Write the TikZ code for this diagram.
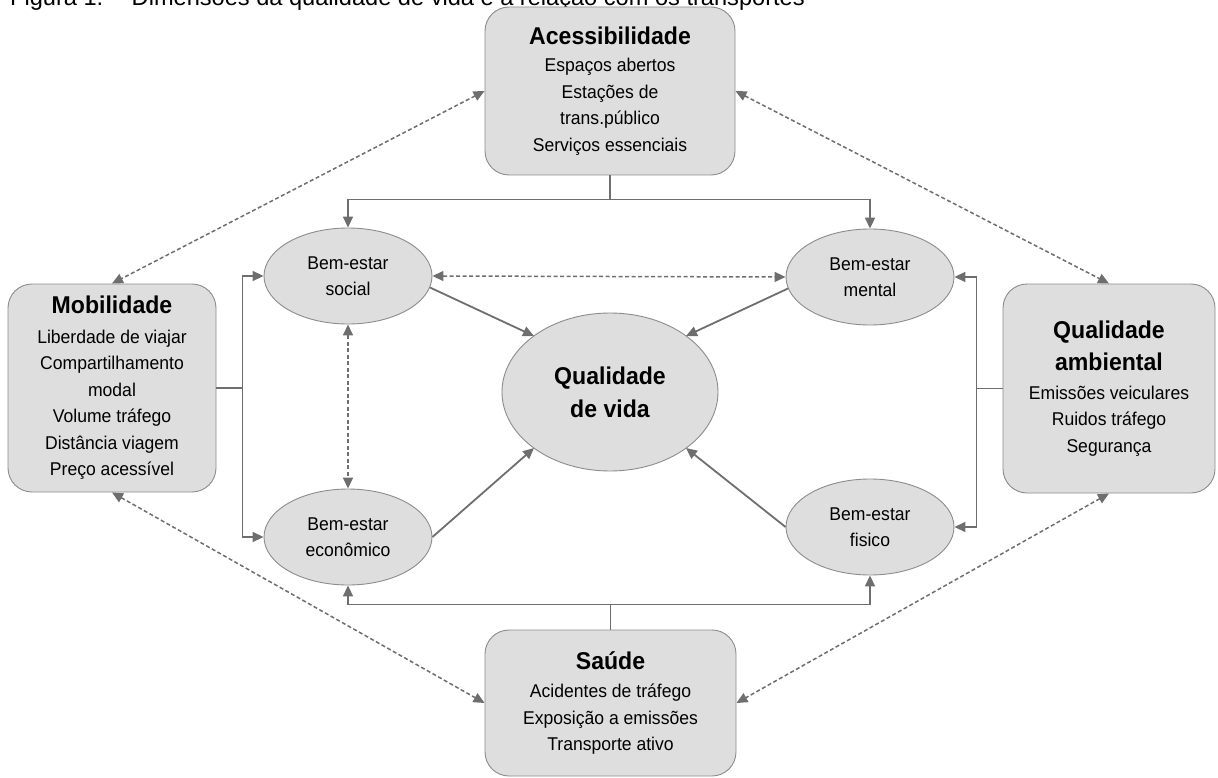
\documentclass[tikz,border=0pt]{standalone}
\usepackage{fontspec}
\setmainfont{Liberation Sans}
\newfontfamily\narrowsans[FakeStretch=0.95]{Liberation Sans}
\usetikzlibrary{arrows.meta,calc,shapes.geometric}

\definecolor{boxfill}{RGB}{222,222,222}
\definecolor{boxline}{RGB}{140,140,140}
\definecolor{linkcol}{RGB}{110,110,110}

\newcommand{\dimtitle}{\fontsize{24.3}{26.5}\selectfont\bfseries}

\tikzset{
  dimbox/.style={draw=boxline, fill=boxfill, line width=0.9pt, rounded corners=24pt,
    align=center, inner sep=0pt, font=\narrowsans\fontsize{18.5}{26.5}\selectfont},
  wellbeing/.style={ellipse, draw=boxline, fill=boxfill, line width=0.9pt, align=center,
    inner sep=0pt, minimum width=168pt, minimum height=96pt,
    font=\narrowsans\fontsize{18.5}{26}\selectfont},
  tip/.tip={Triangle[length=11pt,width=10pt]},
  link/.style={draw=linkcol, line width=1.8pt, -tip},
  duallink/.style={draw=linkcol, line width=1.5pt, dash pattern=on 4pt off 2.5pt, tip-tip},
}

\begin{document}
\begin{tikzpicture}[x=1pt, y=-1pt]
  \useasboundingbox (0,0) rectangle (1218,778);
  \clip (0,0) rectangle (1218,778);

  % caption line, partly above the page edge
  \node[anchor=base west, inner sep=0pt, font=\fontsize{23.6}{26}\selectfont] (title) at (10,6)
    {Figura 1. – Dimensões da qualidade de vida e a relação com os transportes};

  % the four dimensions
  \node[dimbox, minimum width=250pt, minimum height=168pt] (acc) at (610,91)
    {{\dimtitle Acessibilidade}\\[1pt] Espaços abertos\\Estações de\\trans.público\\Serviços essenciais};
  \node[dimbox, minimum width=208pt, minimum height=208pt] (mob) at (112,388)
    {{\dimtitle Mobilidade}\\[3pt] Liberdade de viajar\\Compartilhamento\\modal\\Volume tráfego\\Distância viagem\\Preço acessível};
  \node[dimbox, minimum width=212pt, minimum height=209pt] (amb) at (1109,388.5)
    {{\dimtitle Qualidade}\\[5.5pt]{\dimtitle ambiental}\\[2.5pt] Emissões veiculares\\Ruidos tráfego\\Segurança};
  \node[dimbox, minimum width=251pt, minimum height=146pt] (sau) at (610.5,703)
    {{\dimtitle Saúde}\\[2pt] Acidentes de tráfego\\Exposição a emissões\\Transporte ativo};

  % well-being ellipses and the centre
  \node[wellbeing] (soc) at (348,276) {Bem-estar\\social};
  \node[wellbeing] (men) at (870,277) {Bem-estar\\mental};
  \node[wellbeing] (eco) at (348,537) {Bem-estar\\econômico};
  \node[wellbeing] (fis) at (870,527) {Bem-estar\\fisico};
  \node[ellipse, draw=boxline, fill=boxfill, line width=0.9pt, align=center, inner sep=0pt,
        minimum width=216pt, minimum height=158pt,
        font=\narrowsans\fontsize{24.3}{33}\selectfont\bfseries] (qdv) at (610,392) {Qualidade\\de vida};

  % entry points on the centre ellipse
  \coordinate (qnw) at ($(qdv.center)+(-76,-56)$);
  \coordinate (qne) at ($(qdv.center)+(76,-56)$);
  \coordinate (qsw) at ($(qdv.center)+(-76,56)$);
  \coordinate (qse) at ($(qdv.center)+(76,56)$);

  % dimensions feeding the well-being ellipses
  \draw[link] (acc.south) -- ++(0,24) -| (soc.north);
  \draw[link] (acc.south) -- ++(0,24) -| (men.north);
  \draw[link] (mob.east) -- ++(26,0) |- (soc.west);
  \draw[link] (mob.east) -- ++(26,0) |- (eco.west);
  \draw[link] (amb.west) -- ++(-26,0) |- (men.east);
  \draw[link] (amb.west) -- ++(-26,0) |- (fis.east);
  \draw[link] (sau.north) -- ++(0,-25) -| (eco.south);
  \draw[link] (sau.north) -- ++(0,-25) -| (fis.south);

  % well-being into quality of life
  \draw[link] (soc.-8) -- (qnw);
  \draw[link] (men.188) -- (qne);
  \draw[link] (eco.east) -- (qsw);
  \draw[link] (fis.west) -- (qse);

  % two-way dashed relations
  \draw[duallink] (acc.west) -- (mob.north);
  \draw[duallink] (acc.east) -- (amb.north);
  \draw[duallink] (mob.south) -- (sau.west);
  \draw[duallink] (amb.south) -- (sau.east);
  \draw[duallink] (soc.east) -- (men.west);
  \draw[duallink] (soc.south) -- (eco.north);
\end{tikzpicture}
\end{document}
